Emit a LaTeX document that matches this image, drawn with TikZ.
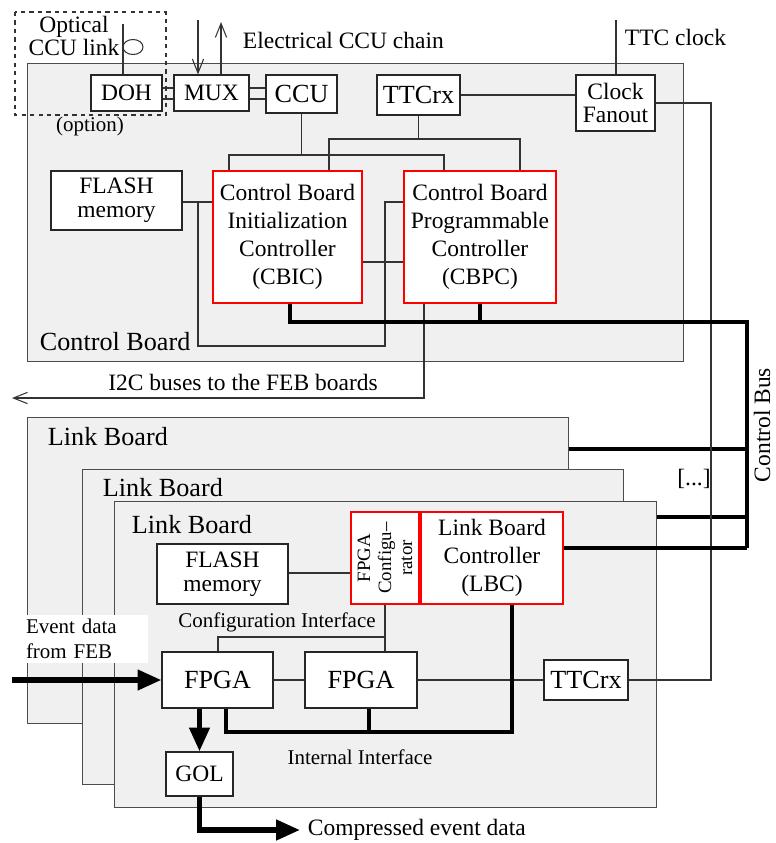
\documentclass[tikz,border=0pt]{standalone}
\usepackage{fontspec}
\setmainfont{Liberation Serif}
\usetikzlibrary{arrows.meta}

\newcommand\pxu{0.025cm}
\newcommand\fnorm{\fontsize{16.7}{19.9}\selectfont}
\newcommand\fbig{\fontsize{18.6}{21}\selectfont}
\newcommand\fsmall{\fontsize{14.9}{17.8}\selectfont}
\newcommand\ftiny{\fontsize{13.4}{15}\selectfont}

\tikzset{
  sz/.style 2 args={minimum width=#1*\pxu, minimum height=#2*\pxu},
  board/.style={draw=black!70, fill=black!6, line width=0.9pt, anchor=north west, inner sep=0pt},
  blk/.style={draw=black!85, fill=white, line width=0.8pt, inner sep=0pt, align=center, font=\fnorm},
  ctrl/.style={blk, draw=red, line width=1.8pt},
  big/.style={font=\fbig},
  tight/.style={font=\fontsize{16.7}{17}\selectfont},
  wire/.style={draw=black!80, line width=0.75pt},
  sig/.style={wire, -{Straight Barb[length=10pt,width=8pt]}},
  bus/.style={line width=2.8pt},
  fat/.style={line width=3.8pt, -{Triangle[length=17pt,width=14pt]}},
}

\begin{document}
\begin{tikzpicture}[x=\pxu, y=-\pxu]
    \useasboundingbox (0,0) rectangle (776,843);

    % Control Board
    \node[board, sz={656}{298}] (ctrlboard) at (27,63) {};
    \draw[dashed, black!80, line width=0.8pt] (15,12) rectangle (166,115);
    \node[blk, sz={71}{36}] (doh) at (126.5,93) {DOH};
    \node[blk, sz={75}{36}] (mux) at (211.5,93) {MUX};
    \node[blk, big, sz={71}{38}] (ccu) at (301.5,94) {CCU};
    \node[blk, big, sz={83}{40}] (ttcrx) at (418.5,95) {TTCrx};
    \node[blk, tight, sz={79}{56}] (fanout) at (615.5,103) {Clock\\Fanout};
    \node[blk, tight, sz={131}{59}] (flash) at (116.5,200.5) {FLASH\\memory};
    \node[ctrl, sz={149}{132}] (cbic) at (287.5,237) {Control Board\\Initialization\\Controller\\(CBIC)};
    \node[ctrl, sz={152}{132}] (cbpc) at (480,237) {Control Board\\Programmable\\Controller\\(CBPC)};

    \node[tight, align=center] (optlbl) at (74,36) {Optical\\CCU link};
    \node[font=\fsmall] (optionlbl) at (90,126) {(option)};
    \node[font=\fnorm, anchor=west] (ccuchain) at (238,40) {Electrical CCU chain};
    \node[font=\fnorm, anchor=west] (ttcclk) at (620,37) {TTC clock};
    \node[font=\fbig, anchor=west] (cblbl) at (35,342) {Control Board};
    \node[font=\fnorm] (i2clbl) at (243,382) {I2C buses to the FEB boards};

    \coordinate (optin) at (123,24);
    \coordinate (ccuin) at (198,20);
    \coordinate (ccuout) at (221,22);
    \coordinate (clkin) at (616,20);
    \coordinate (i2cend) at (12,398);

    \draw[wire] (optin) -- (doh.north -| optin);
    \draw[wire] (133,47) ellipse [x radius=10, y radius=7.5];
    \draw[sig] (ccuin) -- (mux.north -| ccuin);
    \draw[sig] (mux.north -| ccuout) -- (ccuout);
    \draw[wire] (doh.east |- 0,88) -- (mux.west |- 0,88);
    \draw[wire] (doh.east |- 0,99) -- (mux.west |- 0,99);
    \draw[wire] (mux.east |- 0,88) -- (ccu.west |- 0,88);
    \draw[wire] (mux.east |- 0,99) -- (ccu.west |- 0,99);
    \draw[wire] (clkin) -- (fanout.north -| clkin);
    \draw[wire] (ttcrx.east) -- (fanout.west |- ttcrx.east);

    \draw[wire] (ccu.south) -- (ccu.south |- 0,155);
    \draw[wire] (cbic.north -| 229,0) |- (444,155) -- (cbpc.north -| 444,0);
    \draw[wire] (ttcrx.south) -- (ttcrx.south |- 0,139);
    \draw[wire] (cbic.north -| 329,0) |- (520,139) -- (cbpc.north -| 520,0);

    \draw[wire] (flash.east |- 0,202) -- (cbic.west |- 0,202);
    \draw[wire] (198,202) |- (385,346) |- (cbpc.west |- 0,202);
    \draw[wire] (cbic.east |- 0,262) -- (cbpc.west |- 0,262);
    \draw[sig] (cbpc.south -| 424,0) |- (i2cend);

    % Link Boards
    \node[board, sz={541}{306}] (linkA) at (27,417) {};
    \node[font=\fbig, anchor=west] (linkAlbl) at (43,437) {Link Board};
    \draw[bus] (linkA.east |- 0,449) -- (747,449);
    \node[board, sz={541}{315}] (linkB) at (82,469) {};
    \node[font=\fbig, anchor=west] (linkBlbl) at (98,488) {Link Board};
    \draw[bus] (linkB.east |- 0,517) -- (747,517);
    \node[board, sz={542}{306}] (linkC) at (114,501) {};
    \node[font=\fbig, anchor=west] (linkClbl) at (127,525) {Link Board};

    \node[blk, tight, sz={131}{60}] (flashb) at (222.5,574) {FLASH\\memory};
    \node[ctrl, rotate=90, font=\ftiny, sz={92}{68}] (cfg) at (385,558) {FPGA\\Configu--\\rator};
    \node[ctrl, sz={142}{92}] (lbc) at (492,558) {Link Board\\Controller\\(LBC)};
    \node[blk, big, sz={111}{56}] (fpgaa) at (217.5,680) {FPGA};
    \node[blk, big, sz={112}{56}] (fpgab) at (361,680) {FPGA};
    \node[blk, big, sz={84}{40}] (ttcrxb) at (586,680) {TTCrx};
    \node[blk, sz={67}{44}] (gol) at (199.5,774) {GOL};

    \node[font=\fsmall] (cfglbl) at (277,622) {Configuration Interface};
    \node[font=\fsmall] (intlbl) at (360,757) {Internal Interface};

    \draw[wire] (flashb.east |- 0,573) -- (cfg.north |- 0,573);
    \draw[wire] (cfg.west -| 385,0) -- (fpgab.north -| 385,0);
    \draw[wire] (fpgaa.north -| 218,0) |- (385,637);
    \draw[wire] (fpgaa.east) -- (fpgab.west);
    \draw[wire] (fpgab.east) -- (ttcrxb.west);
    \draw[bus] (lbc.south -| 512,0) |- (226,732) -- (fpgaa.south -| 226,0);
    \draw[bus] (fpgab.south -| 369,0) -- (369,732);

    % clock distribution
    \draw[wire] (fanout.east) -| (ttcrxb.east -| 711,0) -- (ttcrxb.east);

    % control bus
    \draw[bus] (cbic.south -| 290,0) |- (747,322) -- (747,548);
    \draw[bus] (cbpc.south) -- (cbpc.south |- 0,322);
    \draw[bus] (lbc.east |- 0,548) -- (747,548);
    \node[font=\fnorm, rotate=90, inner sep=0pt] (buslbl) at (762,425) {Control Bus};
    \node[font=\fnorm] (dots) at (694,479) {[...]};

    % event data
    \coordinate (evin) at (12,680);
    \coordinate (evout) at (300,830);
    \node[fill=white, font=\fsmall, align=left, inner sep=0pt, text width=100*\pxu, sz={143}{48}] (evlbl) at (76,639) {Event data\\from FEB};
    \draw[fat] (evin) -- (fpgaa.west);
    \draw[fat] (fpgaa.south -| gol.north) -- (gol.north);
    \draw[fat] (gol.south) |- (evout);
    \node[font=\fnorm, anchor=west] (outlbl) at (303,830) {Compressed event data};
\end{tikzpicture}
\end{document}
